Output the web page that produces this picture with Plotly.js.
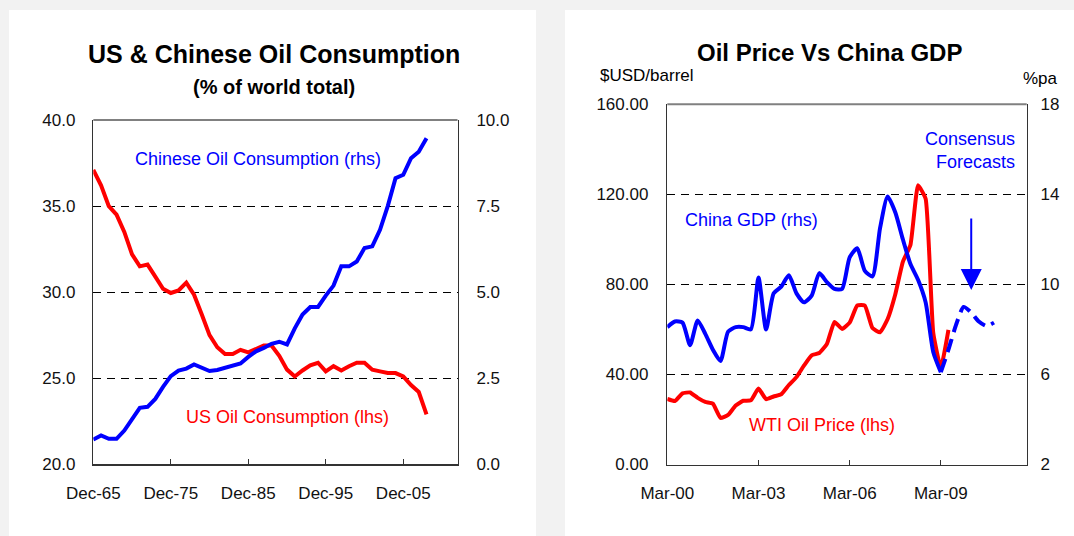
<!DOCTYPE html>
<html><head><meta charset="utf-8">
<script src="https://cdn.plot.ly/plotly-3.0.1.min.js"></script>
<style>html,body{margin:0;padding:0;background:#f2f2f2;}#chart{width:1074px;height:536px;}</style>
</head><body><div id="chart"></div>
<script>
// ---- Left chart data: share of world oil consumption (%) ----
const years = [1965,1966,1967,1968,1969,1970,1971,1972,1973,1974,
  1975,1976,1977,1978,1979,1980,1981,1982,1983,1984,
  1985,1986,1987,1988,1989,1990,1991,1992,1993,1994,
  1995,1996,1997,1998,1999,2000,2001,2002,2003,2004,
  2005,2006,2007,2008];
const usShare = [37.1,36.2,35.0,34.5,33.5,32.2,31.5,31.6,30.9,30.2,
  29.95,30.1,30.55,29.85,28.7,27.5,26.8,26.4,26.4,26.65,
  26.5,26.7,26.9,26.9,26.3,25.5,25.1,25.45,25.75,25.9,
  25.4,25.7,25.45,25.7,25.9,25.9,25.5,25.4,25.3,25.3,
  25.1,24.6,24.2,22.9];
const chinaShare = [0.72,0.84,0.74,0.74,0.98,1.3,1.64,1.67,1.9,2.25,
  2.56,2.72,2.78,2.9,2.82,2.71,2.74,2.8,2.85,2.93,
  3.12,3.28,3.38,3.5,3.56,3.48,3.95,4.35,4.57,4.57,
  4.9,5.19,5.75,5.75,5.89,6.28,6.33,6.81,7.5,8.31,
  8.41,8.89,9.08,9.47];
const yearTickVals = [1965,1975,1985,1995,2005];
const yearTickText = ['Dec-65','Dec-75','Dec-85','Dec-95','Dec-05'];
const lhsTicksA = [20,25,30,35,40];
const rhsTicksA = [0,2.5,5,7.5,10];

// ---- Right chart data: quarterly ----
const quarters = ['Mar-00','Jun-00','Sep-00','Dec-00','Mar-01','Jun-01','Sep-01','Dec-01',
  'Mar-02','Jun-02','Sep-02','Dec-02','Mar-03','Jun-03','Sep-03','Dec-03',
  'Mar-04','Jun-04','Sep-04','Dec-04','Mar-05','Jun-05','Sep-05','Dec-05',
  'Mar-06','Jun-06','Sep-06','Dec-06','Mar-07','Jun-07','Sep-07','Dec-07',
  'Mar-08','Jun-08','Sep-08','Dec-08','Mar-09','Jun-09','Sep-09','Dec-09',
  'Mar-10','Jun-10','Sep-10','Dec-10','Mar-11','Jun-11','Sep-11','Dec-11'];
const wtiPrice = [29.1,28.2,31.6,32.0,29.6,27.8,27.0,20.7,22.0,26.2,
  28.3,28.5,33.7,29.0,30.2,31.2,35.3,38.8,44.0,48.5,
  49.5,53.5,63.3,60.2,63.0,70.6,70.6,60.6,58.7,64.6,
  75.5,90.0,97.5,124.0,118.0,58.5,43.0,59.8];
const chinaGdp = [8.1,8.35,8.3,7.3,8.4,7.8,7.1,6.6,7.9,8.1,
  8.1,8.0,10.3,8.0,9.6,9.9,10.4,9.6,9.2,9.5,
  10.5,10.1,9.8,9.8,11.2,11.6,10.6,10.35,12.5,13.9,
  13.2,12.0,10.9,10.2,9.2,7.0,6.1];
const forecastQuarters = ['Mar-09','Jun-09','Sep-09','Dec-09','Mar-10','Jun-10','Sep-10','Dec-10'];
const chinaGdpForecast = [6.1,7.1,8.2,9.0,8.75,8.35,8.15,8.3];
const quarterTickVals = ['Mar-00','Mar-03','Mar-06','Mar-09'];
const lhsTicksB = [0,40,80,120,160];
const rhsTicksB = [2,6,10,14,18];

const W = 1074, H = 536;
const px = x => x / W;
const py = y => 1 - y / H;
const FONT = 'Liberation Sans, Arial, sans-serif';
const RED = '#ff0000', BLUE = '#0000ff';
const tickFont = {family: FONT, size: 17, color: '#111'};

const traces = [
  {x: years, y: usShare, xaxis: 'x', yaxis: 'y', mode: 'lines', line: {color: RED, width: 4}, hoverinfo: 'skip'},
  {x: years, y: chinaShare, xaxis: 'x', yaxis: 'y2', mode: 'lines', line: {color: BLUE, width: 4}, hoverinfo: 'skip'},
  {x: quarters.slice(0, wtiPrice.length), y: wtiPrice, xaxis: 'x2', yaxis: 'y3', mode: 'lines', line: {color: RED, width: 4, shape: 'spline', smoothing: 0.4}, hoverinfo: 'skip'},
  {x: quarters.slice(0, chinaGdp.length), y: chinaGdp, xaxis: 'x2', yaxis: 'y4', mode: 'lines', line: {color: BLUE, width: 4, shape: 'spline', smoothing: 0.6}, hoverinfo: 'skip'},
  {x: forecastQuarters, y: chinaGdpForecast, xaxis: 'x2', yaxis: 'y4', mode: 'lines', line: {color: BLUE, width: 4, dash: '14px,7px', shape: 'spline', smoothing: 0.6}, hoverinfo: 'skip'}
];

const axisLine = {showline: true, linecolor: '#333', linewidth: 1.5, zeroline: false};
const gridStyle = {showgrid: true, gridcolor: '#000', gridwidth: 1, griddash: '8px,6px'};

const layout = {
  width: W, height: H, autosize: false,
  margin: {l: 0, r: 0, t: 0, b: 0, pad: 0},
  paper_bgcolor: '#f2f2f2', plot_bgcolor: 'rgba(0,0,0,0)',
  showlegend: false,
  font: {family: FONT, color: '#000'},
  xaxis: Object.assign({}, axisLine, {
    domain: [px(93.3), px(457.5)], anchor: 'y', range: [1965, 2012],
    tickmode: 'array', tickvals: yearTickVals, ticktext: yearTickText,
    ticks: 'inside', ticklen: 5, tickwidth: 1, tickcolor: '#333',
    showgrid: false, tickfont: tickFont, ticklabelstandoff: 13
  }),
  yaxis: Object.assign({}, axisLine, gridStyle, {
    domain: [py(464.3), py(120)], anchor: 'x', range: [20, 40],
    tickmode: 'array', tickvals: lhsTicksA, tickformat: '.1f', ticks: '',
    tickfont: tickFont, ticklabelstandoff: 13
  }),
  yaxis2: Object.assign({}, axisLine, {
    overlaying: 'y', side: 'right', anchor: 'x', range: [0, 10],
    tickmode: 'array', tickvals: rhsTicksA, tickformat: '.1f', ticks: '',
    showgrid: false, tickfont: tickFont, ticklabelstandoff: 14
  }),
  xaxis2: Object.assign({}, axisLine, {
    domain: [px(667.3), px(1026.7)], anchor: 'y3', type: 'category',
    categoryorder: 'array', categoryarray: quarters, range: [0, 47.3],
    tickmode: 'array', tickvals: quarterTickVals, ticktext: quarterTickVals,
    ticks: 'inside', ticklen: 5, tickwidth: 1, tickcolor: '#333',
    showgrid: false, tickfont: tickFont, ticklabelstandoff: 13
  }),
  yaxis3: Object.assign({}, axisLine, gridStyle, {
    domain: [py(464.5), py(104.2)], anchor: 'x2', range: [0, 160],
    tickmode: 'array', tickvals: lhsTicksB, tickformat: '.2f', ticks: '',
    tickfont: tickFont, ticklabelstandoff: 14
  }),
  yaxis4: Object.assign({}, axisLine, {
    overlaying: 'y3', side: 'right', anchor: 'x2', range: [2, 18],
    tickmode: 'array', tickvals: rhsTicksB, tickformat: 'd', ticks: '',
    showgrid: false, tickfont: tickFont, ticklabelstandoff: 9
  }),
  shapes: [
    {type: 'rect', xref: 'paper', yref: 'paper', x0: px(9), x1: px(536), y0: 0, y1: py(10), fillcolor: '#ffffff', line: {width: 0}, layer: 'below'},
    {type: 'rect', xref: 'paper', yref: 'paper', x0: px(565), x1: 1, y0: 0, y1: py(10), fillcolor: '#ffffff', line: {width: 0}, layer: 'below'},
    {type: 'line', xref: 'paper', yref: 'paper', x0: px(93.3), x1: px(457.5), y0: py(120), y1: py(120), line: {color: '#808080', width: 2}, layer: 'above'},
    {type: 'line', xref: 'paper', yref: 'paper', x0: px(667.3), x1: px(1026.7), y0: py(104.2), y1: py(104.2), line: {color: '#808080', width: 2}, layer: 'above'}
  ],
  annotations: [
    {xref: 'paper', yref: 'paper', x: px(274), y: py(54), xanchor: 'center', yanchor: 'middle', showarrow: false,
     text: '<b>US &amp; Chinese Oil Consumption</b>', font: {family: FONT, size: 25, color: '#000'}},
    {xref: 'paper', yref: 'paper', x: px(274), y: py(87), xanchor: 'center', yanchor: 'middle', showarrow: false,
     text: '<b>(% of world total)</b>', font: {family: FONT, size: 20, color: '#000'}},
    {xref: 'paper', yref: 'paper', x: px(258), y: py(159), xanchor: 'center', yanchor: 'middle', showarrow: false,
     text: 'Chinese Oil Consumption (rhs)', font: {family: FONT, size: 18, color: BLUE}},
    {xref: 'paper', yref: 'paper', x: px(287.5), y: py(417), xanchor: 'center', yanchor: 'middle', showarrow: false,
     text: 'US Oil Consumption (lhs)', font: {family: FONT, size: 18, color: RED}},
    {xref: 'paper', yref: 'paper', x: px(829), y: py(53), xanchor: 'center', yanchor: 'middle', showarrow: false,
     text: '<b>Oil Price Vs China GDP</b>', font: {family: FONT, size: 24, color: '#000'}},
    {xref: 'paper', yref: 'paper', x: px(598), y: py(76), xanchor: 'left', yanchor: 'middle', showarrow: false,
     text: '$USD/barrel', font: {family: FONT, size: 17, color: '#000'}},
    {xref: 'paper', yref: 'paper', x: px(1060), y: py(79), xanchor: 'right', yanchor: 'middle', showarrow: false,
     text: '%pa', font: {family: FONT, size: 17, color: '#000'}},
    {xref: 'paper', yref: 'paper', x: px(751), y: py(220), xanchor: 'center', yanchor: 'middle', showarrow: false,
     text: 'China GDP (rhs)', font: {family: FONT, size: 18, color: BLUE}},
    {xref: 'paper', yref: 'paper', x: px(821.5), y: py(425), xanchor: 'center', yanchor: 'middle', showarrow: false,
     text: 'WTI Oil Price (lhs)', font: {family: FONT, size: 18, color: RED}},
    {xref: 'paper', yref: 'paper', x: px(1017), y: py(150), xanchor: 'right', yanchor: 'middle', align: 'right', showarrow: false,
     text: 'Consensus<br>Forecasts', font: {family: FONT, size: 18, color: BLUE}},
    {xref: 'x2', yref: 'y3', x: 'Mar-10', y: 77.5, text: '', showarrow: true, arrowhead: 2, arrowsize: 2.1, arrowwidth: 2,
     arrowcolor: BLUE, ax: 0, ay: -73, standoff: 0}
  ]
};

Plotly.newPlot('chart', traces, layout, {staticPlot: true, displayModeBar: false});
</script>
</body></html>
